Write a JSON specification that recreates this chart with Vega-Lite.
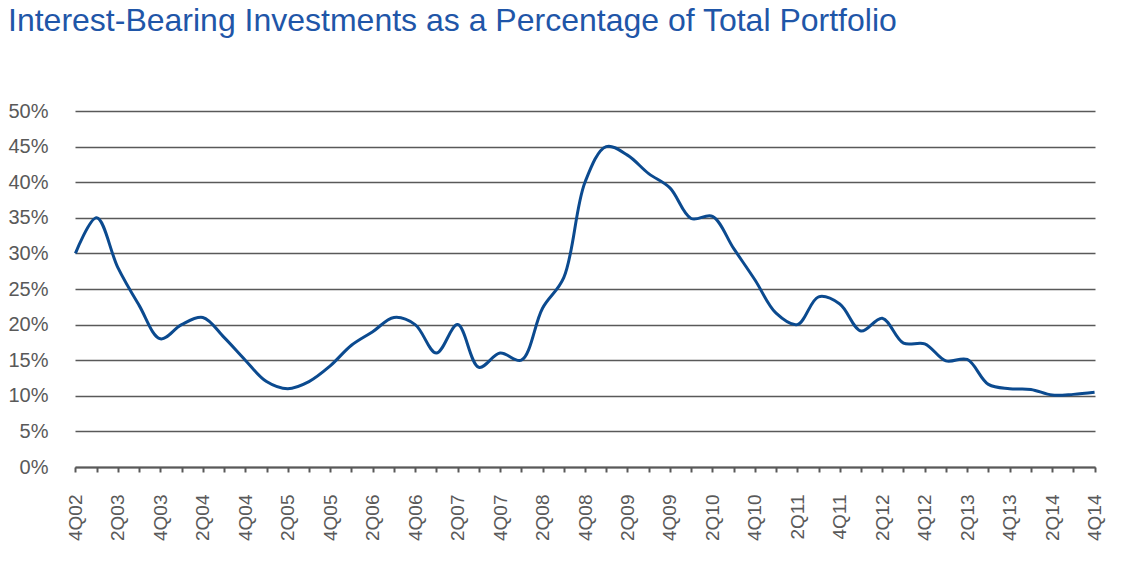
{
  "$schema": "https://vega.github.io/schema/vega-lite/v6.json",
  "autosize": "none",
  "padding": {"left": 75, "top": 111, "right": 28, "bottom": 103},
  "width": 1020,
  "height": 356,
  "background": "white",
  "title": {
    "text": "Interest-Bearing Investments as a Percentage of Total Portfolio",
    "anchor": "start",
    "frame": "group",
    "dx": -67,
    "offset": 63,
    "font": "Liberation Sans",
    "fontSize": 32,
    "fontWeight": "normal",
    "color": "#1f56a8"
  },
  "config": {
    "view": {"stroke": null},
    "axis": {"labelFont": "Liberation Sans", "labelColor": "#595959", "labelFontSize": 19}
  },
  "data": {
    "values": [
      {"q": "4Q02", "v": 30}, {"q": "1Q03", "v": 35}, {"q": "2Q03", "v": 28}, {"q": "3Q03", "v": 22.7},
      {"q": "4Q03", "v": 18}, {"q": "1Q04", "v": 20}, {"q": "2Q04", "v": 21}, {"q": "3Q04", "v": 18.2},
      {"q": "4Q04", "v": 15}, {"q": "1Q05", "v": 12}, {"q": "2Q05", "v": 11}, {"q": "3Q05", "v": 12},
      {"q": "4Q05", "v": 14.2}, {"q": "1Q06", "v": 17.1}, {"q": "2Q06", "v": 19}, {"q": "3Q06", "v": 21},
      {"q": "4Q06", "v": 20}, {"q": "1Q07", "v": 16}, {"q": "2Q07", "v": 20}, {"q": "3Q07", "v": 14},
      {"q": "4Q07", "v": 16}, {"q": "1Q08", "v": 15}, {"q": "2Q08", "v": 22.3}, {"q": "3Q08", "v": 26.6},
      {"q": "4Q08", "v": 40}, {"q": "1Q09", "v": 45}, {"q": "2Q09", "v": 43.8}, {"q": "3Q09", "v": 41.2},
      {"q": "4Q09", "v": 39.2}, {"q": "1Q10", "v": 34.9}, {"q": "2Q10", "v": 35.2}, {"q": "3Q10", "v": 30.7},
      {"q": "4Q10", "v": 26.3}, {"q": "1Q11", "v": 21.6}, {"q": "2Q11", "v": 20}, {"q": "3Q11", "v": 23.9},
      {"q": "4Q11", "v": 22.9}, {"q": "1Q12", "v": 19.1}, {"q": "2Q12", "v": 20.9}, {"q": "3Q12", "v": 17.4},
      {"q": "4Q12", "v": 17.3}, {"q": "1Q13", "v": 14.9}, {"q": "2Q13", "v": 15.1}, {"q": "3Q13", "v": 11.6},
      {"q": "4Q13", "v": 11}, {"q": "1Q14", "v": 10.9}, {"q": "2Q14", "v": 10.1}, {"q": "3Q14", "v": 10.2},
      {"q": "4Q14", "v": 10.5}
    ]
  },
  "mark": {"type": "line", "interpolate": "catmull-rom", "color": "#0b4a8f", "strokeWidth": 3},
  "encoding": {
    "x": {
      "field": "q",
      "type": "ordinal",
      "sort": null,
      "scale": {"type": "point", "padding": 0.02},
      "axis": {
        "title": null,
        "labelAngle": -90,
        "labelOverlap": false,
        "labelExpr": "substring(datum.value,0,1)=='2' || substring(datum.value,0,1)=='4' ? datum.value : ''",
        "domainColor": "#595959",
        "domainWidth": 2,
        "tickColor": "#595959",
        "tickWidth": 2,
        "tickSize": 5,
        "labelPadding": 22,
        "grid": false
      }
    },
    "y": {
      "field": "v",
      "type": "quantitative",
      "scale": {"domain": [0, 50], "nice": false},
      "axis": {
        "title": null,
        "values": [0, 5, 10, 15, 20, 25, 30, 35, 40, 45, 50],
        "labelExpr": "datum.value + '%'",
        "domain": false,
        "ticks": false,
        "labelPadding": 27,
        "labelFontSize": 20,
        "gridColor": "#595959",
        "gridWidth": 1.3,
        "gridOpacity": 1
      }
    }
  }
}
